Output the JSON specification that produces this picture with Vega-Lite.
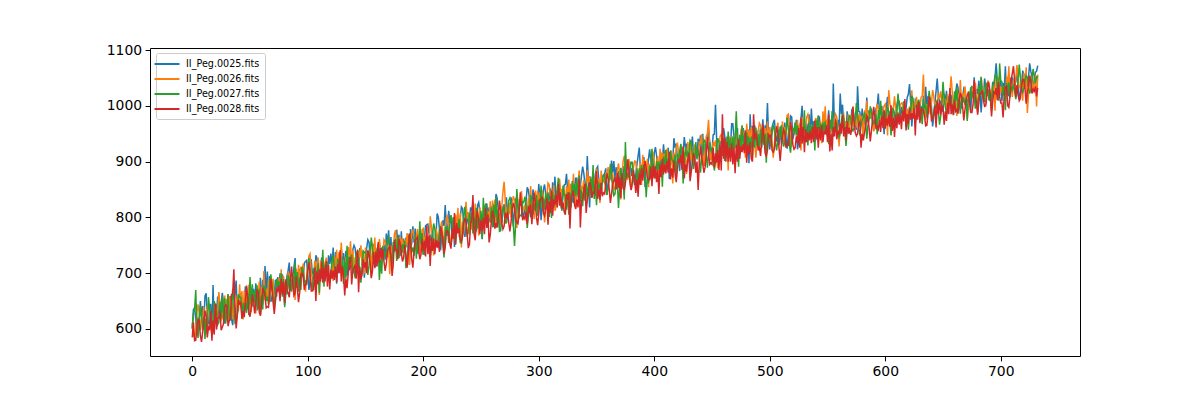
{
  "$schema": "https://vega.github.io/schema/vega-lite/v6.json",
  "width": 930,
  "height": 308,
  "autosize": {"type": "none"},
  "padding": {"left": 150, "top": 48, "right": 120, "bottom": 44},
  "background": "white",
  "config": {
    "view": {"stroke": "black", "strokeWidth": 1},
    "axis": {"grid": false, "domain": false, "tickColor": "black", "tickSize": 4.9, "tickWidth": 1, "labelColor": "black", "labelFont": "DejaVu Sans", "labelFontSize": 13.9, "labelPadding": 3.5, "format": "d"},
    "legend": {
      "orient": "none", "legendX": 6, "legendY": 5,
      "fillColor": "rgba(255,255,255,0.8)", "strokeColor": "#cccccc", "cornerRadius": 2, "padding": 5,
      "labelFont": "DejaVu Sans", "labelFontSize": 9.6, "labelColor": "black",
      "symbolType": "M-2.5,0H2.5", "symbolSize": 100, "symbolStrokeWidth": 2,
      "rowPadding": 4, "labelOffset": 13
    }
  },
  "data": {"values": [
{"x":0,"a":600,"b":610,"c":602,"d":585},
{"x":3,"a":618,"b":600,"c":670,"d":580},
{"x":6,"a":608,"b":628,"c":620,"d":615},
{"x":9,"a":641,"b":615,"c":598,"d":595},
{"x":12,"a":664,"b":610,"c":618,"d":624},
{"x":15,"a":610,"b":638,"c":636,"d":598},
{"x":18,"a":679,"b":619,"c":607,"d":615},
{"x":21,"a":629,"b":609,"c":632,"d":599},
{"x":24,"a":617,"b":642,"c":649,"d":633},
{"x":27,"a":647,"b":631,"c":617,"d":609},
{"x":30,"a":626,"b":654,"c":638,"d":642},
{"x":33,"a":659,"b":621,"c":615,"d":619},
{"x":36,"a":639,"b":647,"c":653,"d":707},
{"x":39,"a":626,"b":660,"c":630,"d":626},
{"x":42,"a":665,"b":639,"c":657,"d":647},
{"x":45,"a":650,"b":669,"c":627,"d":621},
{"x":48,"a":636,"b":646,"c":664,"d":656},
{"x":51,"a":672,"b":630,"c":644,"d":638},
{"x":54,"a":648,"b":666,"c":668,"d":628},
{"x":57,"a":660,"b":652,"c":636,"d":666},
{"x":60,"a":642,"b":676,"c":660,"d":646},
{"x":63,"a":713,"b":651,"c":675,"d":659},
{"x":66,"a":665,"b":689,"c":645,"d":639},
{"x":69,"a":654,"b":668,"c":680,"d":672},
{"x":72,"a":688,"b":658,"c":664,"d":650},
{"x":75,"a":672,"b":692,"c":686,"d":678},
{"x":78,"a":698,"b":666,"c":658,"d":662},
{"x":81,"a":663,"b":687,"c":685,"d":689},
{"x":84,"a":719,"b":697,"c":669,"d":657},
{"x":87,"a":686,"b":672,"c":700,"d":682},
{"x":90,"a":674,"b":708,"c":678,"d":694},
{"x":93,"a":708,"b":686,"c":692,"d":666},
{"x":96,"a":693,"b":717,"c":705,"d":697},
{"x":99,"a":723,"b":693,"c":679,"d":683},
{"x":102,"a":687,"b":735,"c":695,"d":697},
{"x":105,"a":705,"b":691,"c":709,"d":671},
{"x":108,"a":727,"b":699,"c":687,"d":703},
{"x":111,"a":691,"b":723,"c":707,"d":685},
{"x":114,"a":716,"b":686,"c":676,"d":710},
{"x":117,"a":702,"b":712,"c":720,"d":676},
{"x":120,"a":735,"b":700,"c":694,"d":706},
{"x":123,"a":696,"b":730,"c":712,"d":688},
{"x":126,"a":720,"b":700,"c":726,"d":716},
{"x":129,"a":743,"b":755,"c":699,"d":685},
{"x":132,"a":703,"b":711,"c":721,"d":660},
{"x":135,"a":729,"b":747,"c":703,"d":699},
{"x":138,"a":713,"b":709,"c":733,"d":680},
{"x":141,"a":745,"b":729,"c":691,"d":715},
{"x":144,"a":712,"b":740,"c":724,"d":666},
{"x":147,"a":738,"b":714,"c":712,"d":698},
{"x":150,"a":722,"b":746,"c":738,"d":720},
{"x":153,"a":756,"b":728,"c":714,"d":734},
{"x":156,"a":730,"b":754,"c":744,"d":704},
{"x":159,"a":713,"b":725,"c":721,"d":739},
{"x":162,"a":753,"b":761,"c":688,"d":719},
{"x":165,"a":727,"b":733,"c":749,"d":743},
{"x":168,"a":771,"b":749,"c":727,"d":717},
{"x":171,"a":733,"b":698,"c":743,"d":749},
{"x":174,"a":750,"b":730,"c":756,"d":716},
{"x":177,"a":778,"b":756,"c":722,"d":742},
{"x":180,"a":732,"b":766,"c":752,"d":754},
{"x":183,"a":762,"b":736,"c":744,"d":728},
{"x":186,"a":746,"b":772,"c":726,"d":710},
{"x":189,"a":779,"b":749,"c":761,"d":755},
{"x":192,"a":755,"b":765,"c":731,"d":739},
{"x":195,"a":735,"b":779,"c":761,"d":765},
{"x":198,"a":773,"b":753,"c":751,"d":733},
{"x":201,"a":764,"b":742,"c":734,"d":758},
{"x":204,"a":788,"b":762,"c":764,"d":734},
{"x":207,"a":752,"b":784,"c":744,"d":764},
{"x":210,"a":744,"b":756,"c":780,"d":734},
{"x":213,"a":801,"b":745,"c":753,"d":757},
{"x":216,"a":771,"b":793,"c":769,"d":775},
{"x":219,"a":822,"b":768,"c":784,"d":746},
{"x":222,"a":812,"b":784,"c":754,"d":770},
{"x":225,"a":764,"b":762,"c":794,"d":780},
{"x":228,"a":791,"b":805,"c":757,"d":751},
{"x":231,"a":779,"b":765,"c":797,"d":781},
{"x":234,"a":816,"b":792,"c":770,"d":766},
{"x":237,"a":782,"b":828,"c":790,"d":794},
{"x":240,"a":796,"b":770,"c":808,"d":752},
{"x":243,"a":827,"b":805,"c":771,"d":840},
{"x":246,"a":777,"b":791,"c":817,"d":799},
{"x":249,"a":810,"b":818,"c":786,"d":770},
{"x":252,"a":797,"b":801,"c":835,"d":799},
{"x":255,"a":825,"b":785,"c":811,"d":781},
{"x":258,"a":791,"b":829,"c":797,"d":769},
{"x":261,"a":783,"b":805,"c":823,"d":801},
{"x":264,"a":834,"b":818,"c":788,"d":782},
{"x":267,"a":808,"b":788,"c":776,"d":812},
{"x":270,"a":824,"b":864,"c":812,"d":784},
{"x":273,"a":796,"b":820,"c":808,"d":810},
{"x":276,"a":836,"b":800,"c":828,"d":792},
{"x":279,"a":817,"b":831,"c":749,"d":817},
{"x":282,"a":793,"b":813,"c":821,"d":789},
{"x":285,"a":835,"b":847,"c":803,"d":819},
{"x":288,"a":817,"b":821,"c":837,"d":797},
{"x":291,"a":849,"b":835,"c":803,"d":821},
{"x":294,"a":826,"b":804,"c":830,"d":788},
{"x":297,"a":836,"b":848,"c":812,"d":828},
{"x":300,"a":860,"b":826,"c":832,"d":806},
{"x":303,"a":820,"b":848,"c":812,"d":836},
{"x":306,"a":842,"b":812,"c":844,"d":816},
{"x":309,"a":831,"b":859,"c":801,"d":829},
{"x":312,"a":863,"b":837,"c":845,"d":803},
{"x":315,"a":823,"b":819,"c":831,"d":841},
{"x":318,"a":853,"b":869,"c":839,"d":821},
{"x":321,"a":841,"b":837,"c":857,"d":827},
{"x":324,"a":878,"b":856,"c":814,"d":842},
{"x":327,"a":846,"b":830,"c":844,"d":780},
{"x":330,"a":826,"b":878,"c":842,"d":848},
{"x":333,"a":870,"b":852,"c":866,"d":832},
{"x":336,"a":856,"b":838,"c":828,"d":782},
{"x":339,"a":879,"b":867,"c":855,"d":849},
{"x":342,"a":910,"b":885,"c":837,"d":831},
{"x":345,"a":873,"b":853,"c":869,"d":857},
{"x":348,"a":859,"b":871,"c":833,"d":843},
{"x":351,"a":891,"b":853,"c":865,"d":833},
{"x":354,"a":858,"b":884,"c":842,"d":862},
{"x":357,"a":878,"b":862,"c":876,"d":842},
{"x":360,"a":858,"b":890,"c":852,"d":870},
{"x":363,"a":902,"b":864,"c":876,"d":842},
{"x":366,"a":868,"b":850,"c":842,"d":872},
{"x":369,"a":883,"b":897,"c":817,"d":853},
{"x":372,"a":867,"b":875,"c":857,"d":879},
{"x":375,"a":911,"b":889,"c":935,"d":861},
{"x":378,"a":877,"b":905,"c":871,"d":885},
{"x":381,"a":889,"b":861,"c":899,"d":863},
{"x":384,"a":876,"b":900,"c":860,"d":844},
{"x":387,"a":925,"b":882,"c":888,"d":880},
{"x":390,"a":882,"b":912,"c":872,"d":866},
{"x":393,"a":896,"b":880,"c":836,"d":888},
{"x":396,"a":922,"b":896,"c":892,"d":868},
{"x":399,"a":885,"b":915,"c":875,"d":893},
{"x":402,"a":911,"b":889,"c":901,"d":863},
{"x":405,"a":895,"b":923,"c":879,"d":895},
{"x":408,"a":931,"b":901,"c":909,"d":877},
{"x":411,"a":901,"b":923,"c":891,"d":901},
{"x":414,"a":918,"b":894,"c":920,"d":868},
{"x":417,"a":942,"b":916,"c":896,"d":902},
{"x":420,"a":906,"b":934,"c":914,"d":886},
{"x":423,"a":928,"b":902,"c":932,"d":912},
{"x":426,"a":944,"b":916,"c":894,"d":870},
{"x":429,"a":905,"b":935,"c":917,"d":903},
{"x":432,"a":925,"b":901,"c":935,"d":881},
{"x":435,"a":911,"b":931,"c":901,"d":909},
{"x":438,"a":941,"b":915,"c":923,"d":849},
{"x":441,"a":917,"b":949,"c":907,"d":911},
{"x":444,"a":932,"b":922,"c":936,"d":890},
{"x":447,"a":958,"b":975,"c":912,"d":916},
{"x":450,"a":920,"b":912,"c":925,"d":895},
{"x":453,"a":1002,"b":938,"c":900,"d":915},
{"x":456,"a":925,"b":918,"c":935,"d":885},
{"x":459,"a":948,"b":950,"c":910,"d":985},
{"x":462,"a":920,"b":925,"c":940,"d":900},
{"x":465,"a":938,"b":945,"c":915,"d":925},
{"x":468,"a":968,"b":920,"c":945,"d":895},
{"x":471,"a":925,"b":952,"c":990,"d":930},
{"x":474,"a":945,"b":930,"c":948,"d":905},
{"x":477,"a":960,"b":950,"c":925,"d":932},
{"x":480,"a":930,"b":968,"c":952,"d":898},
{"x":483,"a":985,"b":935,"c":920,"d":935},
{"x":486,"a":940,"b":958,"c":950,"d":985},
{"x":489,"a":955,"b":940,"c":928,"d":940},
{"x":492,"a":960,"b":965,"c":958,"d":910},
{"x":495,"a":938,"b":940,"c":930,"d":942},
{"x":498,"a":1005,"b":972,"c":952,"d":920},
{"x":501,"a":945,"b":950,"c":928,"d":948},
{"x":504,"a":975,"b":930,"c":960,"d":922},
{"x":507,"a":950,"b":970,"c":940,"d":950},
{"x":510,"a":932,"b":948,"c":965,"d":928},
{"x":513,"a":970,"b":962,"c":935,"d":952},
{"x":516,"a":948,"b":985,"c":960,"d":930},
{"x":519,"a":980,"b":950,"c":945,"d":955},
{"x":522,"a":955,"b":970,"c":970,"d":925},
{"x":525,"a":935,"b":942,"c":940,"d":960},
{"x":528,"a":1000,"b":980,"c":962,"d":932},
{"x":531,"a":950,"b":955,"c":935,"d":958},
{"x":534,"a":985,"b":972,"c":970,"d":938},
{"x":537,"a":960,"b":945,"c":948,"d":962},
{"x":540,"a":942,"b":978,"c":975,"d":940},
{"x":543,"a":980,"b":960,"c":945,"d":962},
{"x":546,"a":958,"b":990,"c":970,"d":935},
{"x":549,"a":975,"b":952,"c":948,"d":965},
{"x":552,"a":950,"b":972,"c":975,"d":918},
{"x":555,"a":1040,"b":952,"c":945,"d":962},
{"x":558,"a":958,"b":980,"c":970,"d":940},
{"x":561,"a":1022,"b":960,"c":950,"d":968},
{"x":564,"a":962,"b":985,"c":978,"d":945},
{"x":567,"a":990,"b":965,"c":955,"d":972},
{"x":570,"a":968,"b":982,"c":980,"d":948},
{"x":573,"a":978,"b":962,"c":960,"d":970},
{"x":576,"a":1035,"b":988,"c":985,"d":950},
{"x":579,"a":965,"b":970,"c":962,"d":925},
{"x":582,"a":982,"b":992,"c":988,"d":952},
{"x":585,"a":970,"b":975,"c":965,"d":978},
{"x":588,"a":995,"b":990,"c":990,"d":955},
{"x":591,"a":975,"b":968,"c":968,"d":980},
{"x":594,"a":1022,"b":995,"c":992,"d":958},
{"x":597,"a":1000,"b":975,"c":970,"d":982},
{"x":600,"a":981,"b":1003,"c":971,"d":959},
{"x":603,"a":968,"b":1028,"c":990,"d":984},
{"x":606,"a":997,"b":971,"c":983,"d":955},
{"x":609,"a":983,"b":997,"c":963,"d":983},
{"x":612,"a":1008,"b":982,"c":1000,"d":966},
{"x":615,"a":975,"b":1005,"c":985,"d":991},
{"x":618,"a":996,"b":972,"c":962,"d":956},
{"x":621,"a":1039,"b":999,"c":997,"d":995},
{"x":624,"a":995,"b":981,"c":1013,"d":977},
{"x":627,"a":1008,"b":1016,"c":980,"d":1002},
{"x":630,"a":983,"b":995,"c":999,"d":969},
{"x":633,"a":1018,"b":1056,"c":1012,"d":992},
{"x":636,"a":995,"b":1003,"c":979,"d":965},
{"x":639,"a":1015,"b":985,"c":1007,"d":1003},
{"x":642,"a":982,"b":1018,"c":988,"d":984},
{"x":645,"a":1049,"b":1003,"c":1011,"d":1009},
{"x":648,"a":1006,"b":1026,"c":982,"d":984},
{"x":651,"a":1022,"b":1002,"c":1016,"d":966},
{"x":654,"a":993,"b":1021,"c":989,"d":1005},
{"x":657,"a":1019,"b":1053,"c":1009,"d":985},
{"x":660,"a":1008,"b":998,"c":1026,"d":1010},
{"x":663,"a":1032,"b":1022,"c":992,"d":986},
{"x":666,"a":997,"b":1007,"c":1019,"d":1017},
{"x":669,"a":1027,"b":1035,"c":1001,"d":993},
{"x":672,"a":1010,"b":996,"c":1026,"d":1024},
{"x":675,"a":1036,"b":1026,"c":1014,"d":988},
{"x":678,"a":1007,"b":1041,"c":995,"d":1019},
{"x":681,"a":1045,"b":1015,"c":1035,"d":1005},
{"x":684,"a":1022,"b":1034,"c":1014,"d":1028},
{"x":687,"a":1034,"b":1006,"c":1042,"d":1000},
{"x":690,"a":1011,"b":1041,"c":1009,"d":1035},
{"x":693,"a":1043,"b":1021,"c":1035,"d":1007},
{"x":696,"a":1076,"b":1048,"c":1058,"d":1032},
{"x":699,"a":1028,"b":1018,"c":1076,"d":1016},
{"x":702,"a":1041,"b":1035,"c":1019,"d":979},
{"x":705,"a":1017,"b":1053,"c":1041,"d":1035},
{"x":708,"a":1051,"b":1017,"c":1015,"d":1019},
{"x":711,"a":1031,"b":1047,"c":1039,"d":1071},
{"x":714,"a":1059,"b":1073,"c":1023,"d":1037},
{"x":717,"a":1023,"b":1033,"c":1051,"d":1013},
{"x":720,"a":1055,"b":1059,"c":1031,"d":1047},
{"x":723,"a":1037,"b":987,"c":1051,"d":1025},
{"x":726,"a":1062,"b":1054,"c":1028,"d":1042},
{"x":729,"a":1048,"b":1042,"c":1052,"d":1026},
{"x":732,"a":1072,"b":1056,"c":1050,"d":1032},
{"x":1,"a":635,"b":588,"c":628,"d":612},
{"x":4,"a":590,"b":630,"c":605,"d":600},
{"x":7,"a":650,"b":598,"c":642,"d":588},
{"x":10,"a":612,"b":640,"c":622,"d":612},
{"x":13,"a":628,"b":640,"c":590,"d":585},
{"x":16,"a":645,"b":602,"c":612,"d":632},
{"x":19,"a":598,"b":645,"c":650,"d":590},
{"x":22,"a":658,"b":632,"c":608,"d":620},
{"x":25,"a":645,"b":615,"c":620,"d":598},
{"x":28,"a":610,"b":660,"c":655,"d":638},
{"x":31,"a":662,"b":612,"c":662,"d":605},
{"x":34,"a":618,"b":662,"c":630,"d":662},
{"x":37,"a":665,"b":625,"c":610,"d":640},
{"x":40,"a":648,"b":632,"c":662,"d":652},
{"x":43,"a":628,"b":668,"c":620,"d":618},
{"x":46,"a":675,"b":635,"c":648,"d":650},
{"x":49,"a":658,"b":678,"c":625,"d":628},
{"x":52,"a":640,"b":660,"c":680,"d":662},
{"x":55,"a":682,"b":628,"c":640,"d":645},
{"x":58,"a":635,"b":685,"c":672,"d":630},
{"x":61,"a":688,"b":645,"c":635,"d":672},
{"x":64,"a":660,"b":672,"c":650,"d":638},
{"x":67,"a":695,"b":648,"c":678,"d":660},
{"x":70,"a":668,"b":690,"c":652,"d":648},
{"x":73,"a":658,"b":685,"c":690,"d":672},
{"x":76,"a":700,"b":660,"c":665,"d":650},
{"x":79,"a":680,"b":695,"c":690,"d":685},
{"x":82,"a":695,"b":665,"c":662,"d":670},
{"x":85,"a":668,"b":685,"c":695,"d":690},
{"x":88,"a":710,"b":700,"c":668,"d":660},
{"x":91,"a":700,"b":678,"c":702,"d":672},
{"x":94,"a":682,"b":712,"c":670,"d":698},
{"x":97,"a":718,"b":690,"c":685,"d":670},
{"x":100,"a":698,"b":712,"c":712,"d":705},
{"x":103,"a":725,"b":700,"c":680,"d":668},
{"x":106,"a":690,"b":722,"c":690,"d":710},
{"x":109,"a":705,"b":728,"c":718,"d":680},
{"x":112,"a":728,"b":700,"c":690,"d":720},
{"x":115,"a":695,"b":718,"c":715,"d":685},
{"x":118,"a":732,"b":690,"c":698,"d":715},
{"x":121,"a":710,"b":722,"c":722,"d":690},
{"x":124,"a":738,"b":705,"c":698,"d":712},
{"x":127,"a":700,"b":738,"c":712,"d":700},
{"x":130,"a":725,"b":718,"c":730,"d":712},
{"x":133,"a":740,"b":728,"c":690,"d":690},
{"x":136,"a":705,"b":725,"c":728,"d":720},
{"x":139,"a":742,"b":742,"c":700,"d":705},
{"x":142,"a":722,"b":712,"c":735,"d":690},
{"x":145,"a":745,"b":728,"c":702,"d":712},
{"x":148,"a":722,"b":740,"c":740,"d":725},
{"x":151,"a":745,"b":720,"c":722,"d":700},
{"x":154,"a":725,"b":742,"c":740,"d":718},
{"x":157,"a":752,"b":725,"c":720,"d":738},
{"x":160,"a":742,"b":745,"c":742,"d":712},
{"x":163,"a":738,"b":740,"c":725,"d":745},
{"x":166,"a":752,"b":760,"c":730,"d":720},
{"x":169,"a":750,"b":728,"c":758,"d":740},
{"x":172,"a":765,"b":750,"c":728,"d":730},
{"x":175,"a":738,"b":770,"c":742,"d":760},
{"x":178,"a":752,"b":735,"c":765,"d":725},
{"x":181,"a":775,"b":750,"c":730,"d":735},
{"x":184,"a":738,"b":760,"c":758,"d":750},
{"x":187,"a":768,"b":745,"c":748,"d":735},
{"x":190,"a":752,"b":772,"c":738,"d":725},
{"x":193,"a":780,"b":748,"c":768,"d":760},
{"x":196,"a":760,"b":760,"c":740,"d":740},
{"x":199,"a":750,"b":778,"c":772,"d":762},
{"x":202,"a":785,"b":768,"c":760,"d":730},
{"x":205,"a":770,"b":740,"c":740,"d":768},
{"x":208,"a":778,"b":765,"c":770,"d":740},
{"x":211,"a":765,"b":780,"c":752,"d":760},
{"x":214,"a":780,"b":772,"c":778,"d":738},
{"x":217,"a":795,"b":770,"c":750,"d":762},
{"x":220,"a":785,"b":800,"c":768,"d":775},
{"x":223,"a":790,"b":765,"c":788,"d":752},
{"x":226,"a":800,"b":788,"c":770,"d":762},
{"x":229,"a":770,"b":780,"c":780,"d":790},
{"x":232,"a":798,"b":808,"c":755,"d":760},
{"x":235,"a":790,"b":770,"c":805,"d":790},
{"x":238,"a":810,"b":798,"c":765,"d":770},
{"x":241,"a":818,"b":795,"c":790,"d":790},
{"x":244,"a":795,"b":780,"c":800,"d":770},
{"x":247,"a":822,"b":805,"c":780,"d":812},
{"x":250,"a":795,"b":795,"c":812,"d":795},
{"x":253,"a":815,"b":820,"c":790,"d":770},
{"x":256,"a":800,"b":812,"c":790,"d":805},
{"x":259,"a":820,"b":790,"c":818,"d":795},
{"x":262,"a":810,"b":832,"c":800,"d":780},
{"x":265,"a":812,"b":798,"c":815,"d":800},
{"x":268,"a":790,"b":820,"c":800,"d":790},
{"x":271,"a":800,"b":830,"c":790,"d":808},
{"x":274,"a":825,"b":805,"c":830,"d":790},
{"x":277,"a":812,"b":825,"c":800,"d":815},
{"x":280,"a":832,"b":800,"c":790,"d":795},
{"x":283,"a":822,"b":830,"c":800,"d":810},
{"x":286,"a":808,"b":820,"c":828,"d":795},
{"x":289,"a":830,"b":808,"c":825,"d":810},
{"x":292,"a":832,"b":822,"c":812,"d":808},
{"x":295,"a":850,"b":830,"c":805,"d":818},
{"x":298,"a":830,"b":820,"c":840,"d":800},
{"x":301,"a":835,"b":845,"c":818,"d":832},
{"x":304,"a":850,"b":825,"c":835,"d":808},
{"x":307,"a":822,"b":838,"c":822,"d":835},
{"x":310,"a":852,"b":840,"c":838,"d":808},
{"x":313,"a":838,"b":858,"c":818,"d":832},
{"x":316,"a":848,"b":835,"c":852,"d":818},
{"x":319,"a":832,"b":845,"c":822,"d":845},
{"x":322,"a":858,"b":852,"c":840,"d":810},
{"x":325,"a":848,"b":835,"c":845,"d":832},
{"x":328,"a":860,"b":860,"c":818,"d":835},
{"x":331,"a":852,"b":848,"c":860,"d":822},
{"x":334,"a":840,"b":862,"c":840,"d":818},
{"x":337,"a":875,"b":855,"c":850,"d":830},
{"x":340,"a":858,"b":845,"c":830,"d":860},
{"x":343,"a":865,"b":862,"c":858,"d":842},
{"x":346,"a":855,"b":870,"c":840,"d":835},
{"x":349,"a":878,"b":845,"c":858,"d":862},
{"x":352,"a":868,"b":870,"c":848,"d":850},
{"x":355,"a":872,"b":862,"c":862,"d":838},
{"x":358,"a":888,"b":878,"c":850,"d":860},
{"x":361,"a":875,"b":868,"c":868,"d":850},
{"x":364,"a":880,"b":880,"c":852,"d":860},
{"x":367,"a":890,"b":870,"c":868,"d":850},
{"x":370,"a":860,"b":878,"c":852,"d":872},
{"x":373,"a":892,"b":900,"c":880,"d":852},
{"x":376,"a":882,"b":872,"c":870,"d":880},
{"x":379,"a":900,"b":880,"c":888,"d":860},
{"x":382,"a":870,"b":890,"c":870,"d":885},
{"x":385,"a":895,"b":875,"c":888,"d":868},
{"x":388,"a":885,"b":898,"c":868,"d":858},
{"x":391,"a":908,"b":888,"c":895,"d":885},
{"x":394,"a":880,"b":905,"c":870,"d":872},
{"x":397,"a":902,"b":878,"c":870,"d":890},
{"x":400,"a":915,"b":898,"c":892,"d":870},
{"x":403,"a":888,"b":910,"c":885,"d":885},
{"x":406,"a":915,"b":902,"c":900,"d":872},
{"x":409,"a":905,"b":915,"c":882,"d":895},
{"x":412,"a":925,"b":905,"c":905,"d":880},
{"x":415,"a":902,"b":920,"c":905,"d":888},
{"x":418,"a":925,"b":900,"c":912,"d":878},
{"x":421,"a":912,"b":918,"c":898,"d":905},
{"x":424,"a":915,"b":925,"c":910,"d":885},
{"x":427,"a":925,"b":902,"c":925,"d":895},
{"x":430,"a":918,"b":920,"c":902,"d":915},
{"x":433,"a":945,"b":920,"c":915,"d":898},
{"x":436,"a":925,"b":912,"c":935,"d":880},
{"x":439,"a":928,"b":935,"c":905,"d":900},
{"x":442,"a":950,"b":915,"c":925,"d":895},
{"x":445,"a":920,"b":945,"c":915,"d":915},
{"x":448,"a":935,"b":925,"c":935,"d":895},
{"x":451,"a":948,"b":935,"c":905,"d":925},
{"x":454,"a":940,"b":905,"c":925,"d":898},
{"x":457,"a":935,"b":945,"c":912,"d":930},
{"x":460,"a":960,"b":915,"c":932,"d":905},
{"x":463,"a":945,"b":940,"c":912,"d":935},
{"x":466,"a":925,"b":920,"c":942,"d":900},
{"x":469,"a":945,"b":942,"c":922,"d":925},
{"x":472,"a":960,"b":928,"c":935,"d":900},
{"x":475,"a":925,"b":955,"c":918,"d":928},
{"x":478,"a":948,"b":930,"c":948,"d":915},
{"x":481,"a":958,"b":945,"c":925,"d":930},
{"x":484,"a":935,"b":962,"c":945,"d":905},
{"x":487,"a":965,"b":930,"c":925,"d":940},
{"x":490,"a":935,"b":955,"c":950,"d":920},
{"x":493,"a":950,"b":935,"c":925,"d":935},
{"x":496,"a":965,"b":960,"c":950,"d":915},
{"x":499,"a":940,"b":938,"c":935,"d":948},
{"x":502,"a":962,"b":935,"c":950,"d":920},
{"x":505,"a":948,"b":958,"c":932,"d":945},
{"x":508,"a":930,"b":942,"c":958,"d":925},
{"x":511,"a":962,"b":972,"c":940,"d":945},
{"x":514,"a":945,"b":945,"c":952,"d":925},
{"x":517,"a":960,"b":965,"c":930,"d":945},
{"x":520,"a":940,"b":958,"c":960,"d":930},
{"x":523,"a":975,"b":945,"c":948,"d":945},
{"x":526,"a":962,"b":968,"c":955,"d":925},
{"x":529,"a":955,"b":952,"c":945,"d":962},
{"x":532,"a":968,"b":980,"c":958,"d":935},
{"x":535,"a":948,"b":955,"c":945,"d":955},
{"x":538,"a":972,"b":960,"c":968,"d":935},
{"x":541,"a":962,"b":958,"c":950,"d":962},
{"x":544,"a":952,"b":972,"c":968,"d":938},
{"x":547,"a":980,"b":965,"c":952,"d":955},
{"x":550,"a":962,"b":975,"c":960,"d":935},
{"x":553,"a":975,"b":955,"c":958,"d":950},
{"x":556,"a":965,"b":975,"c":962,"d":945},
{"x":559,"a":975,"b":962,"c":948,"d":955},
{"x":562,"a":985,"b":970,"c":972,"d":950},
{"x":565,"a":972,"b":962,"c":955,"d":962},
{"x":568,"a":965,"b":985,"c":975,"d":950},
{"x":571,"a":992,"b":965,"c":958,"d":958},
{"x":574,"a":968,"b":980,"c":975,"d":952},
{"x":577,"a":990,"b":972,"c":960,"d":968},
{"x":580,"a":995,"b":982,"c":975,"d":950},
{"x":583,"a":968,"b":975,"c":968,"d":962},
{"x":586,"a":992,"b":985,"c":975,"d":960},
{"x":589,"a":978,"b":975,"c":968,"d":975},
{"x":592,"a":995,"b":985,"c":985,"d":958},
{"x":595,"a":985,"b":980,"c":975,"d":975},
{"x":598,"a":978,"b":992,"c":990,"d":960},
{"x":601,"a":1000,"b":985,"c":985,"d":978},
{"x":604,"a":990,"b":1005,"c":972,"d":962},
{"x":607,"a":975,"b":995,"c":995,"d":978},
{"x":610,"a":1000,"b":980,"c":985,"d":960},
{"x":613,"a":985,"b":1000,"c":975,"d":985},
{"x":616,"a":1008,"b":985,"c":1000,"d":972},
{"x":619,"a":1015,"b":995,"c":985,"d":985},
{"x":622,"a":1005,"b":985,"c":990,"d":975},
{"x":625,"a":985,"b":1005,"c":990,"d":995},
{"x":628,"a":995,"b":995,"c":1005,"d":975},
{"x":631,"a":1000,"b":1015,"c":985,"d":995},
{"x":634,"a":985,"b":1005,"c":995,"d":982},
{"x":637,"a":1018,"b":985,"c":1000,"d":985},
{"x":640,"a":1000,"b":1005,"c":985,"d":972},
{"x":643,"a":1005,"b":995,"c":1002,"d":1000},
{"x":646,"a":1015,"b":1022,"c":990,"d":985},
{"x":649,"a":995,"b":1000,"c":1005,"d":1000},
{"x":652,"a":1005,"b":1012,"c":998,"d":990},
{"x":655,"a":1010,"b":1005,"c":1015,"d":985},
{"x":658,"a":995,"b":1025,"c":995,"d":1002},
{"x":661,"a":1025,"b":1010,"c":1008,"d":990},
{"x":664,"a":1005,"b":1005,"c":1012,"d":1010},
{"x":667,"a":1015,"b":1022,"c":1005,"d":998},
{"x":670,"a":1002,"b":1012,"c":1012,"d":1010},
{"x":673,"a":1025,"b":1015,"c":1005,"d":1005},
{"x":676,"a":1015,"b":1032,"c":1022,"d":1002},
{"x":679,"a":1030,"b":1020,"c":1010,"d":1005},
{"x":682,"a":1025,"b":1025,"c":1020,"d":1022},
{"x":685,"a":1015,"b":1022,"c":1025,"d":1010},
{"x":688,"a":1040,"b":1030,"c":1018,"d":1020},
{"x":691,"a":1025,"b":1015,"c":1025,"d":1015},
{"x":694,"a":1030,"b":1040,"c":1040,"d":1025},
{"x":697,"a":1045,"b":1030,"c":1035,"d":1010},
{"x":700,"a":1045,"b":1035,"c":1045,"d":1005},
{"x":703,"a":1030,"b":1020,"c":1035,"d":1020},
{"x":706,"a":1040,"b":1035,"c":1020,"d":1000},
{"x":709,"a":1035,"b":1040,"c":1035,"d":1045},
{"x":712,"a":1050,"b":1030,"c":1025,"d":1045},
{"x":715,"a":1040,"b":1052,"c":1045,"d":1020},
{"x":718,"a":1038,"b":1048,"c":1030,"d":1035},
{"x":721,"a":1045,"b":1030,"c":1045,"d":1030},
{"x":724,"a":1050,"b":1020,"c":1035,"d":1035},
{"x":727,"a":1052,"b":1045,"c":1048,"d":1022},
{"x":730,"a":1060,"b":1055,"c":1040,"d":1035},
{"x":2,"a":638,"b":585,"c":635,"d":579},
{"x":5,"a":591,"b":644,"c":584,"d":618},
{"x":8,"a":621,"b":618,"c":624,"d":577},
{"x":11,"a":659,"b":601,"c":582,"d":633},
{"x":14,"a":610,"b":645,"c":657,"d":603},
{"x":17,"a":594,"b":589,"c":614,"d":579},
{"x":20,"a":645,"b":640,"c":642,"d":645},
{"x":23,"a":629,"b":666,"c":612,"d":620},
{"x":26,"a":665,"b":620,"c":659,"d":603},
{"x":29,"a":617,"b":643,"c":610,"d":643},
{"x":32,"a":646,"b":659,"c":625,"d":615},
{"x":35,"a":607,"b":617,"c":672,"d":663},
{"x":38,"a":687,"b":642,"c":611,"d":601},
{"x":41,"a":647,"b":680,"c":657,"d":645},
{"x":44,"a":633,"b":617,"c":647,"d":632},
{"x":47,"a":674,"b":661,"c":629,"d":678},
{"x":50,"a":648,"b":682,"c":693,"d":622},
{"x":53,"a":672,"b":647,"c":642,"d":649},
{"x":56,"a":633,"b":676,"c":679,"d":671},
{"x":59,"a":692,"b":624,"c":627,"d":624},
{"x":62,"a":668,"b":704,"c":677,"d":668},
{"x":65,"a":703,"b":651,"c":658,"d":640},
{"x":68,"a":649,"b":684,"c":698,"d":690},
{"x":71,"a":662,"b":643,"c":641,"d":627},
{"x":74,"a":693,"b":678,"c":677,"d":668},
{"x":77,"a":685,"b":707,"c":700,"d":690},
{"x":80,"a":643,"b":658,"c":639,"d":647},
{"x":83,"a":705,"b":703,"c":697,"d":665},
{"x":86,"a":681,"b":680,"c":667,"d":712},
{"x":89,"a":727,"b":652,"c":719,"d":664},
{"x":92,"a":674,"b":715,"c":667,"d":648},
{"x":95,"a":703,"b":701,"c":711,"d":700},
{"x":98,"a":721,"b":667,"c":686,"d":680},
{"x":101,"a":670,"b":731,"c":727,"d":719},
{"x":104,"a":698,"b":688,"c":670,"d":668},
{"x":107,"a":732,"b":717,"c":705,"d":650},
{"x":110,"a":684,"b":661,"c":665,"d":707},
{"x":113,"a":723,"b":709,"c":742,"d":683},
{"x":116,"a":695,"b":728,"c":704,"d":722},
{"x":119,"a":716,"b":692,"c":682,"d":671},
{"x":122,"a":746,"b":686,"c":733,"d":705},
{"x":125,"a":681,"b":742,"c":692,"d":684},
{"x":128,"a":718,"b":715,"c":713,"d":741},
{"x":131,"a":736,"b":682,"c":681,"d":695},
{"x":134,"a":695,"b":730,"c":749,"d":673},
{"x":137,"a":713,"b":757,"c":726,"d":729},
{"x":140,"a":750,"b":701,"c":706,"d":709},
{"x":143,"a":708,"b":718,"c":739,"d":742},
{"x":146,"a":738,"b":750,"c":683,"d":689},
{"x":149,"a":692,"b":699,"c":737,"d":710},
{"x":152,"a":760,"b":737,"c":697,"d":741},
{"x":155,"a":730,"b":693,"c":764,"d":691},
{"x":158,"a":712,"b":764,"c":720,"d":709},
{"x":161,"a":752,"b":731,"c":746,"d":756},
{"x":164,"a":746,"b":718,"c":699,"d":725},
{"x":167,"a":724,"b":756,"c":739,"d":704},
{"x":170,"a":777,"b":745,"c":766,"d":745},
{"x":173,"a":715,"b":711,"c":717,"d":695},
{"x":176,"a":745,"b":777,"c":761,"d":742},
{"x":179,"a":769,"b":735,"c":727,"d":761},
{"x":182,"a":737,"b":763,"c":752,"d":721},
{"x":185,"a":764,"b":748,"c":709,"d":734},
{"x":188,"a":715,"b":715,"c":771,"d":771},
{"x":191,"a":784,"b":778,"c":746,"d":710},
{"x":194,"a":750,"b":764,"c":726,"d":761},
{"x":197,"a":764,"b":733,"c":793,"d":725},
{"x":200,"a":733,"b":780,"c":735,"d":740},
{"x":203,"a":787,"b":746,"c":760,"d":785},
{"x":206,"a":768,"b":802,"c":729,"d":713},
{"x":209,"a":747,"b":732,"c":789,"d":762},
{"x":212,"a":807,"b":770,"c":757,"d":746},
{"x":215,"a":741,"b":783,"c":784,"d":783},
{"x":218,"a":785,"b":753,"c":728,"d":734},
{"x":221,"a":767,"b":803,"c":783,"d":776},
{"x":224,"a":799,"b":750,"c":804,"d":744},
{"x":227,"a":747,"b":776,"c":761,"d":808},
{"x":230,"a":785,"b":817,"c":778,"d":772},
{"x":233,"a":819,"b":746,"c":754,"d":757},
{"x":236,"a":765,"b":794,"c":819,"d":797},
{"x":239,"a":787,"b":809,"c":774,"d":745},
{"x":242,"a":811,"b":778,"c":809,"d":795},
{"x":245,"a":779,"b":825,"c":768,"d":759},
{"x":248,"a":827,"b":767,"c":799,"d":793},
{"x":251,"a":761,"b":804,"c":762,"d":776},
{"x":254,"a":807,"b":818,"c":825,"d":817},
{"x":257,"a":818,"b":791,"c":795,"d":755},
{"x":260,"a":793,"b":830,"c":782,"d":812},
{"x":263,"a":842,"b":781,"c":836,"d":790},
{"x":266,"a":781,"b":807,"c":775,"d":830},
{"x":269,"a":810,"b":846,"c":820,"d":779},
{"x":272,"a":836,"b":789,"c":791,"d":799},
{"x":275,"a":807,"b":827,"c":835,"d":775},
{"x":278,"a":784,"b":838,"c":786,"d":826},
{"x":281,"a":837,"b":781,"c":851,"d":791},
{"x":284,"a":822,"b":827,"c":804,"d":845},
{"x":287,"a":801,"b":815,"c":827,"d":801},
{"x":290,"a":854,"b":805,"c":781,"d":788},
{"x":293,"a":800,"b":856,"c":840,"d":823},
{"x":296,"a":838,"b":797,"c":825,"d":844},
{"x":299,"a":824,"b":848,"c":803,"d":786},
{"x":302,"a":795,"b":832,"c":857,"d":834},
{"x":305,"a":859,"b":791,"c":814,"d":803},
{"x":308,"a":842,"b":862,"c":845,"d":787},
{"x":311,"a":818,"b":832,"c":799,"d":848},
{"x":314,"a":873,"b":812,"c":840,"d":822},
{"x":317,"a":833,"b":855,"c":871,"d":860},
{"x":320,"a":812,"b":851,"c":813,"d":816},
{"x":323,"a":859,"b":810,"c":839,"d":805},
{"x":326,"a":849,"b":868,"c":805,"d":845},
{"x":329,"a":832,"b":837,"c":865,"d":839},
{"x":332,"a":870,"b":818,"c":838,"d":815},
{"x":335,"a":828,"b":884,"c":875,"d":869},
{"x":338,"a":891,"b":852,"c":820,"d":831},
{"x":341,"a":852,"b":832,"c":861,"d":808},
{"x":344,"a":818,"b":874,"c":835,"d":863},
{"x":347,"a":867,"b":843,"c":894,"d":845},
{"x":350,"a":887,"b":888,"c":822,"d":883},
{"x":353,"a":850,"b":826,"c":861,"d":831},
{"x":356,"a":876,"b":867,"c":875,"d":844},
{"x":359,"a":840,"b":875,"c":841,"d":879},
{"x":362,"a":868,"b":892,"c":896,"d":826},
{"x":365,"a":901,"b":851,"c":839,"d":865},
{"x":368,"a":852,"b":884,"c":864,"d":880},
{"x":371,"a":888,"b":832,"c":889,"d":835},
{"x":374,"a":840,"b":910,"c":832,"d":850},
{"x":377,"a":900,"b":867,"c":880,"d":904},
{"x":380,"a":874,"b":850,"c":899,"d":849},
{"x":383,"a":858,"b":901,"c":862,"d":870},
{"x":386,"a":910,"b":883,"c":846,"d":837},
{"x":389,"a":891,"b":858,"c":894,"d":888},
{"x":392,"a":854,"b":902,"c":882,"d":901},
{"x":395,"a":905,"b":854,"c":861,"d":867},
{"x":398,"a":880,"b":920,"c":923,"d":856},
{"x":401,"a":926,"b":887,"c":870,"d":891},
{"x":404,"a":876,"b":871,"c":900,"d":842},
{"x":407,"a":899,"b":917,"c":855,"d":905},
{"x":410,"a":918,"b":882,"c":921,"d":879},
{"x":413,"a":869,"b":906,"c":883,"d":917},
{"x":416,"a":898,"b":861,"c":901,"d":871},
{"x":419,"a":932,"b":927,"c":869,"d":863},
{"x":422,"a":883,"b":897,"c":919,"d":897},
{"x":425,"a":917,"b":919,"c":861,"d":927},
{"x":428,"a":932,"b":878,"c":912,"d":882},
{"x":431,"a":871,"b":937,"c":938,"d":865},
{"x":434,"a":913,"b":898,"c":887,"d":913},
{"x":437,"a":906,"b":917,"c":904,"d":900},
{"x":440,"a":947,"b":933,"c":880,"d":928},
{"x":443,"a":892,"b":893,"c":939,"d":880},
{"x":446,"a":931,"b":951,"c":889,"d":944},
{"x":449,"a":906,"b":902,"c":919,"d":898},
{"x":452,"a":949,"b":930,"c":884,"d":889},
{"x":455,"a":891,"b":888,"c":942,"d":921},
{"x":458,"a":931,"b":949,"c":920,"d":884},
{"x":461,"a":946,"b":926,"c":901,"d":943},
{"x":464,"a":909,"b":884,"c":954,"d":900},
{"x":467,"a":968,"b":945,"c":910,"d":933},
{"x":470,"a":930,"b":926,"c":939,"d":879},
{"x":473,"a":906,"b":913,"c":891,"d":941},
{"x":476,"a":950,"b":963,"c":965,"d":917},
{"x":479,"a":927,"b":907,"c":921,"d":956},
{"x":482,"a":897,"b":957,"c":942,"d":913},
{"x":485,"a":964,"b":941,"c":907,"d":900},
{"x":488,"a":941,"b":907,"c":961,"d":951},
{"x":491,"a":926,"b":969,"c":925,"d":927},
{"x":494,"a":976,"b":934,"c":956,"d":967},
{"x":497,"a":954,"b":920,"c":898,"d":910},
{"x":500,"a":922,"b":962,"c":946,"d":945},
{"x":503,"a":969,"b":907,"c":964,"d":917},
{"x":506,"a":936,"b":958,"c":920,"d":963},
{"x":509,"a":963,"b":947,"c":941,"d":901},
{"x":512,"a":954,"b":935,"c":927,"d":957},
{"x":515,"a":923,"b":983,"c":979,"d":932},
{"x":518,"a":982,"b":925,"c":916,"d":971},
{"x":521,"a":950,"b":959,"c":952,"d":922},
{"x":524,"a":922,"b":975,"c":966,"d":933},
{"x":527,"a":977,"b":920,"c":938,"d":979},
{"x":530,"a":966,"b":958,"c":992,"d":917},
{"x":533,"a":939,"b":985,"c":929,"d":953},
{"x":536,"a":995,"b":939,"c":963,"d":933},
{"x":539,"a":946,"b":973,"c":920,"d":973},
{"x":542,"a":980,"b":955,"c":983,"d":925},
{"x":545,"a":938,"b":933,"c":951,"d":965},
{"x":548,"a":963,"b":999,"c":972,"d":949},
{"x":551,"a":992,"b":969,"c":931,"d":985},
{"x":554,"a":930,"b":949,"c":991,"d":920},
{"x":557,"a":978,"b":985,"c":963,"d":975},
{"x":560,"a":961,"b":927,"c":943,"d":948},
{"x":563,"a":1002,"b":981,"c":986,"d":984},
{"x":566,"a":950,"b":969,"c":928,"d":938},
{"x":569,"a":978,"b":950,"c":982,"d":961},
{"x":572,"a":997,"b":999,"c":955,"d":998},
{"x":575,"a":957,"b":961,"c":1005,"d":946},
{"x":578,"a":989,"b":984,"c":947,"d":972},
{"x":581,"a":947,"b":943,"c":979,"d":938},
{"x":584,"a":1015,"b":1009,"c":941,"d":982},
{"x":587,"a":977,"b":981,"c":999,"d":936},
{"x":590,"a":956,"b":954,"c":972,"d":998},
{"x":593,"a":1000,"b":1004,"c":949,"d":963},
{"x":596,"a":986,"b":972,"c":1009,"d":953},
{"x":599,"a":949,"b":1000,"c":963,"d":993},
{"x":602,"a":1016,"b":947,"c":998,"d":964},
{"x":605,"a":982,"b":994,"c":947,"d":1001},
{"x":608,"a":961,"b":1017,"c":986,"d":944},
{"x":611,"a":1011,"b":970,"c":1022,"d":988},
{"x":614,"a":998,"b":1005,"c":975,"d":958},
{"x":617,"a":979,"b":986,"c":997,"d":1012},
{"x":620,"a":1021,"b":962,"c":957,"d":968},
{"x":623,"a":963,"b":1028,"c":1018,"d":987},
{"x":626,"a":1011,"b":1000,"c":971,"d":947},
{"x":629,"a":996,"b":980,"c":1011,"d":1007},
{"x":632,"a":975,"b":1017,"c":967,"d":993},
{"x":635,"a":1034,"b":975,"c":1002,"d":964},
{"x":638,"a":991,"b":998,"c":1027,"d":1017},
{"x":641,"a":963,"b":1028,"c":979,"d":978},
{"x":644,"a":1027,"b":967,"c":996,"d":961},
{"x":647,"a":1009,"b":1014,"c":966,"d":1010},
{"x":650,"a":989,"b":1029,"c":1043,"d":996},
{"x":653,"a":1027,"b":986,"c":988,"d":973},
{"x":656,"a":1020,"b":1025,"c":1017,"d":1032},
{"x":659,"a":984,"b":998,"c":997,"d":983},
{"x":662,"a":1040,"b":982,"c":1033,"d":993},
{"x":665,"a":994,"b":1046,"c":986,"d":1023},
{"x":668,"a":1031,"b":1014,"c":1015,"d":974},
{"x":671,"a":1010,"b":976,"c":973,"d":1019},
{"x":674,"a":988,"b":1030,"c":1033,"d":988},
{"x":677,"a":1051,"b":1025,"c":1016,"d":1046},
{"x":680,"a":1021,"b":1002,"c":989,"d":984},
{"x":683,"a":988,"b":1051,"c":1052,"d":1022},
{"x":686,"a":1049,"b":1009,"c":1007,"d":999},
{"x":689,"a":1022,"b":1044,"c":1030,"d":1043},
{"x":692,"a":1013,"b":1029,"c":991,"d":981},
{"x":695,"a":1051,"b":991,"c":1053,"d":1022},
{"x":698,"a":1039,"b":1051,"c":1009,"d":1042},
{"x":701,"a":1008,"b":1027,"c":1043,"d":1005},
{"x":704,"a":1071,"b":1008,"c":992,"d":1034},
{"x":707,"a":1017,"b":1071,"c":1042,"d":997},
{"x":710,"a":1051,"b":1016,"c":1029,"d":1058},
{"x":713,"a":1042,"b":1049,"c":1012,"d":1016},
{"x":716,"a":1012,"b":1032,"c":1074,"d":1009},
{"x":719,"a":1063,"b":1009,"c":1024,"d":1047},
{"x":722,"a":1040,"b":1069,"c":1054,"d":1004},
{"x":725,"a":1076,"b":1045,"c":1022,"d":1054},
{"x":728,"a":1027,"b":1024,"c":1066,"d":1030},
{"x":731,"a":1062,"b":999,"c":1052,"d":1017}
  ]},
  "transform": [{"fold": ["a", "b", "c", "d"], "as": ["series", "value"]}],
  "mark": {"type": "line", "strokeWidth": 1.5, "clip": true},
  "encoding": {
    "x": {"field": "x", "type": "quantitative", "sort": "ascending", "scale": {"domain": [-36.6, 768.6], "nice": false, "zero": false}, "axis": {"values": [0, 100, 200, 300, 400, 500, 600, 700], "title": null}},
    "y": {"field": "value", "type": "quantitative", "scale": {"domain": [551.6, 1103.6], "nice": false, "zero": false}, "axis": {"values": [600, 700, 800, 900, 1000, 1100], "title": null}},
    "color": {
      "field": "series", "type": "nominal",
      "scale": {"domain": ["a", "b", "c", "d"], "range": ["#1f77b4", "#ff7f0e", "#2ca02c", "#d62728"]},
      "legend": {"title": null, "labelExpr": "{'a': 'II_Peg.0025.fits', 'b': 'II_Peg.0026.fits', 'c': 'II_Peg.0027.fits', 'd': 'II_Peg.0028.fits'}[datum.label]"}
    }
  }
}
